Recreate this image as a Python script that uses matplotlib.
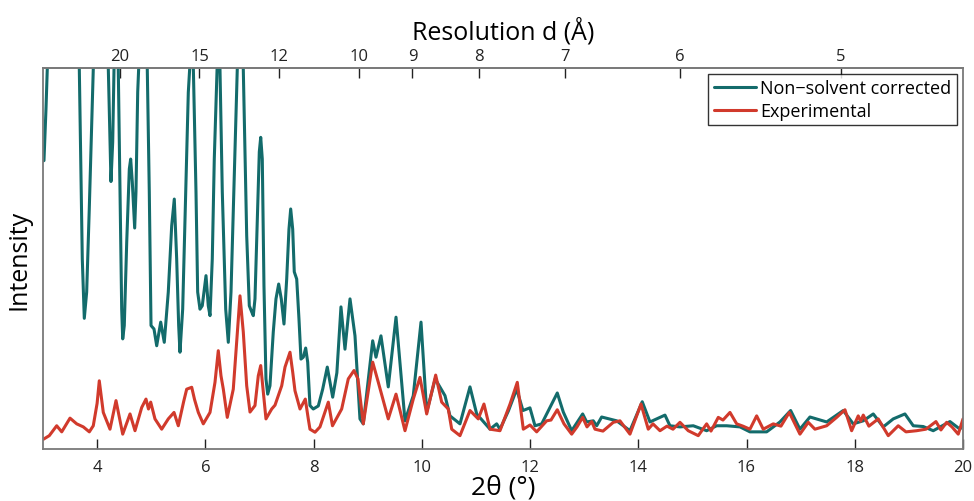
import numpy as np
import matplotlib
matplotlib.use("Agg")
import matplotlib.pyplot as plt

# ---- data (2theta in degrees, intensity in arbitrary units; axis top = 100) ----
teal_x = [3.000, 3.018, 3.055, 3.079, 3.35, 3.671, 3.697, 3.726, 3.763, 3.807, 3.855, 3.900,
          3.929, 4.06, 4.207, 4.238, 4.256, 4.288, 4.312, 4.35, 4.391, 4.423, 4.454, 4.473,
          4.502, 4.547, 4.595, 4.620, 4.650, 4.694, 4.718, 4.750, 4.84, 4.927, 4.964, 4.996,
          5.051, 5.101, 5.175, 5.241, 5.315, 5.378, 5.426, 5.470, 5.507, 5.531, 5.581, 5.637,
          5.685, 5.76, 5.827, 5.858, 5.901, 5.943, 6.012, 6.054, 6.086, 6.128, 6.165, 6.25,
          6.313, 6.376, 6.424, 6.474, 6.535, 6.63, 6.701, 6.764, 6.812, 6.856, 6.886, 6.917,
          6.960, 6.997, 7.023, 7.052, 7.083, 7.120, 7.152, 7.194, 7.255, 7.305, 7.355, 7.403,
          7.453, 7.503, 7.545, 7.577, 7.614, 7.643, 7.688, 7.730, 7.767, 7.810, 7.854, 7.891,
          7.933, 7.994, 8.087, 8.168, 8.253, 8.353, 8.43, 8.506, 8.580, 8.673, 8.765, 8.857,
          8.918, 9.092, 9.153, 9.245, 9.380, 9.523, 9.689, 9.842, 9.985, 10.090, 10.247,
          10.428, 10.520, 10.705, 10.890, 11.014, 11.260, 11.383, 11.444, 11.60, 11.753,
          11.869, 11.998, 12.091, 12.215, 12.307, 12.503, 12.614, 12.769, 12.972, 13.046,
          13.168, 13.231, 13.323, 13.600, 13.846, 14.073, 14.216, 14.493, 14.585, 14.770,
          15.016, 15.263, 15.448, 15.633, 15.879, 16.063, 16.372, 16.618, 16.815, 16.987,
          17.172, 17.481, 17.787, 17.972, 18.157, 18.342, 18.526, 18.711, 18.927, 19.081,
          19.265, 19.450, 19.759, 19.944, 20.0]
teal_y = [75.6, 75.7, 89.2, 99.7, 150.0, 99.7, 76.1, 49.9, 34.3, 41.2, 63.0, 84.9,
          99.7, 140.0, 99.7, 80.6, 70.2, 80.6, 99.7, 112.0, 99.7, 67.5, 36.7, 28.9,
          32.4, 54.3, 73.5, 76.1, 70.1, 58.0, 67.5, 93.7, 125.0, 99.7, 67.5, 32.4,
          31.5, 27.1, 33.3, 28.0, 41.2, 58.6, 65.6, 49.9, 32.4, 25.4, 36.7, 67.5,
          93.6, 112.0, 67.5, 41.2, 36.7, 37.6, 45.5, 37.6, 35.0, 49.9, 76.1, 115.0,
          67.5, 36.7, 28.0, 41.2, 71.6, 120.0, 99.7, 56.0, 37.6, 36.0, 35.0, 39.4,
          60.4, 78.0, 81.8, 76.1, 42.9, 18.4, 14.4, 16.6, 30.7, 39.4, 43.3, 39.4,
          32.8, 44.6, 57.7, 63.0, 57.7, 46.5, 44.6, 34.1, 23.6, 24.1, 26.5, 22.8,
          11.4, 10.5, 11.3, 15.7, 21.5, 13.6, 20.0, 37.3, 26.2, 39.4, 29.7, 7.9,
          6.6, 28.4, 24.1, 29.7, 16.3, 34.6, 7.4, 14.0, 33.3, 9.7, 18.4,
          14.0, 8.7, 6.6, 16.3, 9.2, 5.2, 6.6, 5.2, 10.0, 15.7,
          10.1, 10.8, 6.1, 6.6, 9.2, 14.7, 9.7, 4.8, 9.2, 7.1,
          7.4, 6.1, 8.4, 7.4, 4.8, 12.4, 7.1, 8.9, 6.1, 5.8,
          6.1, 4.8, 6.1, 6.1, 5.8, 4.5, 4.5, 7.1, 10.1, 5.2,
          8.4, 7.1, 10.1, 6.6, 7.4, 9.2, 5.8, 7.9, 9.2, 6.1,
          5.9, 4.8, 7.2, 5.2, 6.6]

red_x = [3.00, 3.116, 3.253, 3.346, 3.499, 3.623, 3.745, 3.856, 3.929, 4.000, 4.040, 4.080,
         4.114, 4.238, 4.349, 4.473, 4.608, 4.700, 4.824, 4.903, 4.949, 4.990, 5.069, 5.193,
         5.315, 5.421, 5.500, 5.600, 5.655, 5.748, 5.800, 5.870, 5.962, 6.086, 6.178, 6.239,
         6.289, 6.332, 6.405, 6.516, 6.579, 6.640, 6.701, 6.764, 6.825, 6.917, 6.978, 7.023,
         7.071, 7.120, 7.226, 7.287, 7.411, 7.472, 7.564, 7.614, 7.656, 7.749, 7.847, 7.902,
         7.933, 8.026, 8.118, 8.272, 8.349, 8.519, 8.641, 8.747, 8.820, 8.918, 9.092, 9.196,
         9.380, 9.523, 9.689, 9.842, 9.966, 10.090, 10.256, 10.367, 10.489, 10.552, 10.705,
         10.890, 11.043, 11.148, 11.260, 11.444, 11.630, 11.764, 11.875, 11.999, 12.122,
         12.307, 12.387, 12.503, 12.627, 12.769, 12.867, 12.972, 13.052, 13.138, 13.200,
         13.347, 13.538, 13.661, 13.846, 14.050, 14.184, 14.271, 14.401, 14.530, 14.641,
         14.770, 14.923, 15.108, 15.263, 15.343, 15.478, 15.565, 15.694, 15.818, 15.934,
         16.063, 16.187, 16.309, 16.494, 16.636, 16.790, 16.987, 17.141, 17.264, 17.481,
         17.665, 17.819, 17.942, 18.064, 18.110, 18.157, 18.261, 18.434, 18.619, 18.803,
         18.946, 19.143, 19.315, 19.500, 19.592, 19.698, 19.796, 19.912, 20.0]
red_y = [2.5, 3.5, 6.1, 4.5, 8.1, 6.6, 5.8, 4.5, 6.1, 12.0, 17.9, 13.5,
         9.6, 5.2, 12.7, 3.9, 9.2, 4.8, 10.9, 13.1, 10.5, 12.3, 7.9, 5.2,
         7.9, 9.6, 6.1, 12.5, 15.7, 16.2, 13.0, 9.6, 6.6, 9.6, 17.5, 25.8,
         19.2, 15.7, 8.3, 15.7, 28.0, 40.2, 30.7, 16.6, 9.7, 11.4, 19.2, 21.9,
         15.0, 7.9, 10.5, 11.5, 16.6, 21.5, 25.4, 20.2, 15.3, 10.5, 13.1, 7.9,
         5.2, 4.4, 5.8, 12.3, 6.1, 10.5, 18.4, 20.6, 18.4, 6.6, 22.8, 17.5,
         7.9, 14.4, 4.8, 13.1, 18.8, 9.2, 19.4, 12.3, 10.5, 5.2, 3.5,
         10.1, 7.9, 11.8, 5.2, 4.8, 11.8, 17.5, 5.2, 6.3, 4.5,
         7.4, 7.6, 10.3, 6.6, 3.9, 5.8, 8.3, 5.8, 7.2, 5.2,
         4.7, 7.0, 7.4, 3.9, 11.8, 5.2, 6.6, 4.8, 6.0, 5.2,
         7.0, 4.8, 3.5, 6.6, 4.7, 8.3, 7.6, 9.6, 6.6, 6.0,
         5.2, 8.7, 5.2, 6.6, 6.0, 9.6, 3.9, 7.0, 5.2, 6.1,
         8.3, 10.3, 4.8, 8.7, 7.3, 8.9, 6.0, 7.9, 3.5, 6.1,
         4.5, 4.8, 5.2, 7.2, 5.0, 7.0, 5.8, 3.9, 7.9]

bottom_ticks = [4, 6, 8, 10, 12, 14, 16, 18, 20]
top_ticks = [20, 15, 12, 10, 9, 8, 7, 6, 5]
wavelength = 1.5418  # Cu K-alpha, Angstrom

series_labels = ["Non\u2212solvent corrected", "Experimental"]
teal = "#136b6b"
red = "#d13a2c"

plt.rcParams['font.family'] = ['Open Sans', 'DejaVu Sans']

fig = plt.figure(figsize=(9.74, 5.02), dpi=100)
ax = fig.add_axes([43/974, 1-450/502, (963-43)/974, (450-69)/502])

ax.plot(teal_x, teal_y, color=teal, lw=2.2, label=series_labels[0],
        solid_joinstyle='round', solid_capstyle='round')
ax.plot(red_x, red_y, color=red, lw=2.2, label=series_labels[1],
        solid_joinstyle='round', solid_capstyle='round')

ax.set_xlim(3, 20)
ax.set_ylim(0, 100)
ax.set_yticks([])
ax.set_xticks(bottom_ticks)
ax.tick_params(axis='x', direction='in', length=7, width=1, labelsize=12, pad=7, colors='#222222')
for s in ax.spines.values():
    s.set_color('#7a7a7a')
    s.set_linewidth(1.3)

def tth_to_d(t):
    t = np.asarray(t, dtype=float)
    with np.errstate(divide='ignore', invalid='ignore'):
        return wavelength / (2*np.sin(np.radians(t)/2))

def d_to_tth(d):
    d = np.asarray(d, dtype=float)
    with np.errstate(divide='ignore', invalid='ignore'):
        return 2*np.degrees(np.arcsin(np.clip(wavelength/(2*d), -1, 1)))

sec = ax.secondary_xaxis('top', functions=(tth_to_d, d_to_tth))
sec.set_xticks(top_ticks)
sec.set_xticklabels([str(t) for t in top_ticks])
sec.tick_params(axis='x', direction='in', length=7, width=1, labelsize=12, pad=3, colors='#222222')
sec.spines['top'].set_color('#7a7a7a')
sec.spines['top'].set_linewidth(1.3)
sec.set_xlabel("Resolution d (\u00c5)", fontsize=18, labelpad=7)

ax.set_xlabel("2\u03b8 (\u00b0)", fontsize=19, labelpad=0)
ax.set_ylabel("Intensity", fontsize=18, labelpad=8)

leg = ax.legend(loc='upper right', fontsize=13, frameon=True, fancybox=False,
                edgecolor='black', handlelength=2.35, handletextpad=0.25,
                borderaxespad=0.33, borderpad=0.3, labelspacing=0.25)
leg.get_frame().set_linewidth(1.0)

fig.savefig("out.png", dpi=100)
